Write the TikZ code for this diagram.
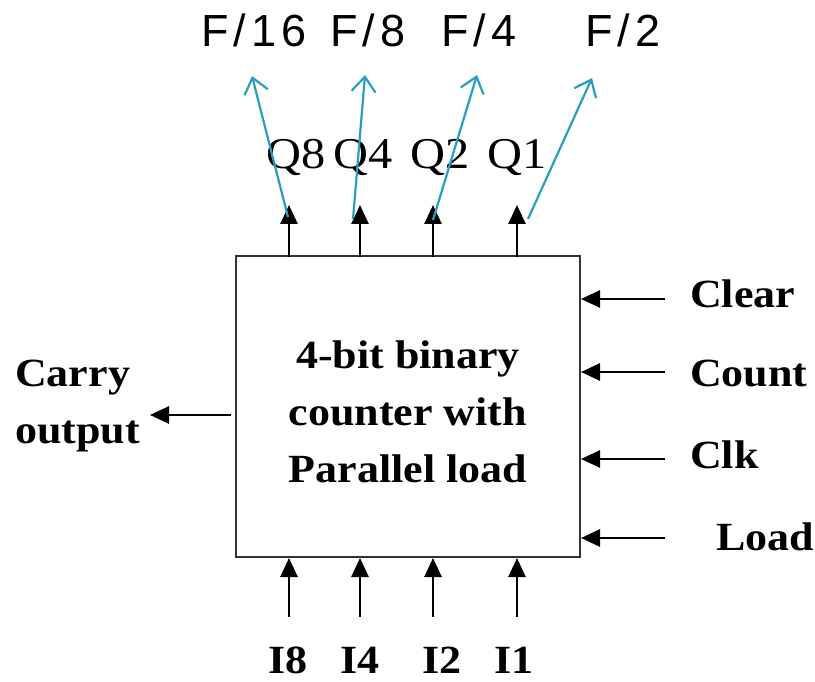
\documentclass[tikz,border=0pt]{standalone}
\usepackage{fontspec}
\setmainfont{Liberation Serif}[FakeStretch=1.1]
\newfontfamily\fsans[LetterSpace=11]{Liberation Sans}
\usetikzlibrary{arrows.meta}
\definecolor{tapblue}{HTML}{2A9FBC}
\definecolor{boxgray}{HTML}{333333}

\begin{document}
\begin{tikzpicture}[x=1pt,y=-1pt,
  sig/.style={line width=2.8pt, black, -{Triangle[length=19pt,width=17pt]}},
  tap/.style={line width=2.2pt, tapblue, -{Straight Barb[length=15pt,width=24pt]}},
  lbl/.style={font=\fontsize{40}{57}\selectfont\bfseries, inner sep=0pt},
  qlbl/.style={font=\fontsize{44}{48}\selectfont, inner sep=0pt},
  flbl/.style={font=\fsans\fontsize{45}{50}\selectfont, inner sep=0pt}]
\useasboundingbox (0,0) rectangle (815,682);

% counter block
\node[draw=boxgray, line width=2.4pt, minimum width=344pt, minimum height=301pt, inner sep=0pt] (ctr) at (408,406.5) {};
\node[lbl, align=center] (title) at (408,412) {4-bit binary\\counter with\\Parallel load};

% outputs Q on top
\foreach \n/\x in {q8/289, q4/360, q2/433, q1/517}{
  \coordinate (\n b) at (\x,257);
  \coordinate (\n t) at (\x,205);
  \draw[sig] (\n b) -- (\n t);
}
\node[qlbl, anchor=base] (Q8) at (296,169) {Q8};
\node[qlbl, anchor=base] (Q4) at (363,169) {Q4};
\node[qlbl, anchor=base] (Q2) at (440,169) {Q2};
\node[qlbl, anchor=base] (Q1) at (517,169) {Q1};

% parallel inputs I at the bottom
\foreach \n/\x in {i8/289, i4/360, i2/433, i1/517}{
  \coordinate (\n s) at (\x,617);
  \coordinate (\n e) at (\x,558);
  \draw[sig] (\n s) -- (\n e);
}
\node[lbl, anchor=base] (I8) at (288,673) {I8};
\node[lbl, anchor=base] (I4) at (360,673) {I4};
\node[lbl, anchor=base] (I2) at (442,673) {I2};
\node[lbl, anchor=base] (I1) at (514,673) {I1};

% control inputs on the right
\foreach \n/\y in {clr/299, cnt/372, clk/459, ld/538}{
  \coordinate (\n s) at (665,\y);
  \coordinate (\n e) at (581,\y);
  \draw[sig] (\n s) -- (\n e);
}
\node[lbl, anchor=base west] (Clear) at (690,307) {Clear};
\node[lbl, anchor=base west] (Count) at (690,386) {Count};
\node[lbl, anchor=base west] (Clk) at (690,468) {Clk};
\node[lbl, anchor=base west] (Load) at (716,550) {Load};

% carry output on the left
\coordinate (cys) at (231,415);
\coordinate (cye) at (150,415);
\draw[sig] (cys) -- (cye);
\node[lbl, align=left, anchor=west] (Carry) at (15,406) {Carry\\output};

% frequency taps
\node[flbl, anchor=base] (F16) at (254,47) {F/16};
\node[flbl, anchor=base] (F8) at (368,47) {F/8};
\node[flbl, anchor=base] (F4) at (479,47) {F/4};
\node[flbl, anchor=base] (F2) at (623,47) {F/2};
\coordinate (f16s) at (288,217); \coordinate (f16e) at (252,76);
\coordinate (f8s) at (353,219);  \coordinate (f8e) at (365,75);
\coordinate (f4s) at (433,220);  \coordinate (f4e) at (477,75);
\coordinate (f2s) at (528,219);  \coordinate (f2e) at (592,78);
\draw[tap] (f16s) -- (f16e);
\draw[tap] (f8s) -- (f8e);
\draw[tap] (f4s) -- (f4e);
\draw[tap] (f2s) -- (f2e);
\end{tikzpicture}
\end{document}
